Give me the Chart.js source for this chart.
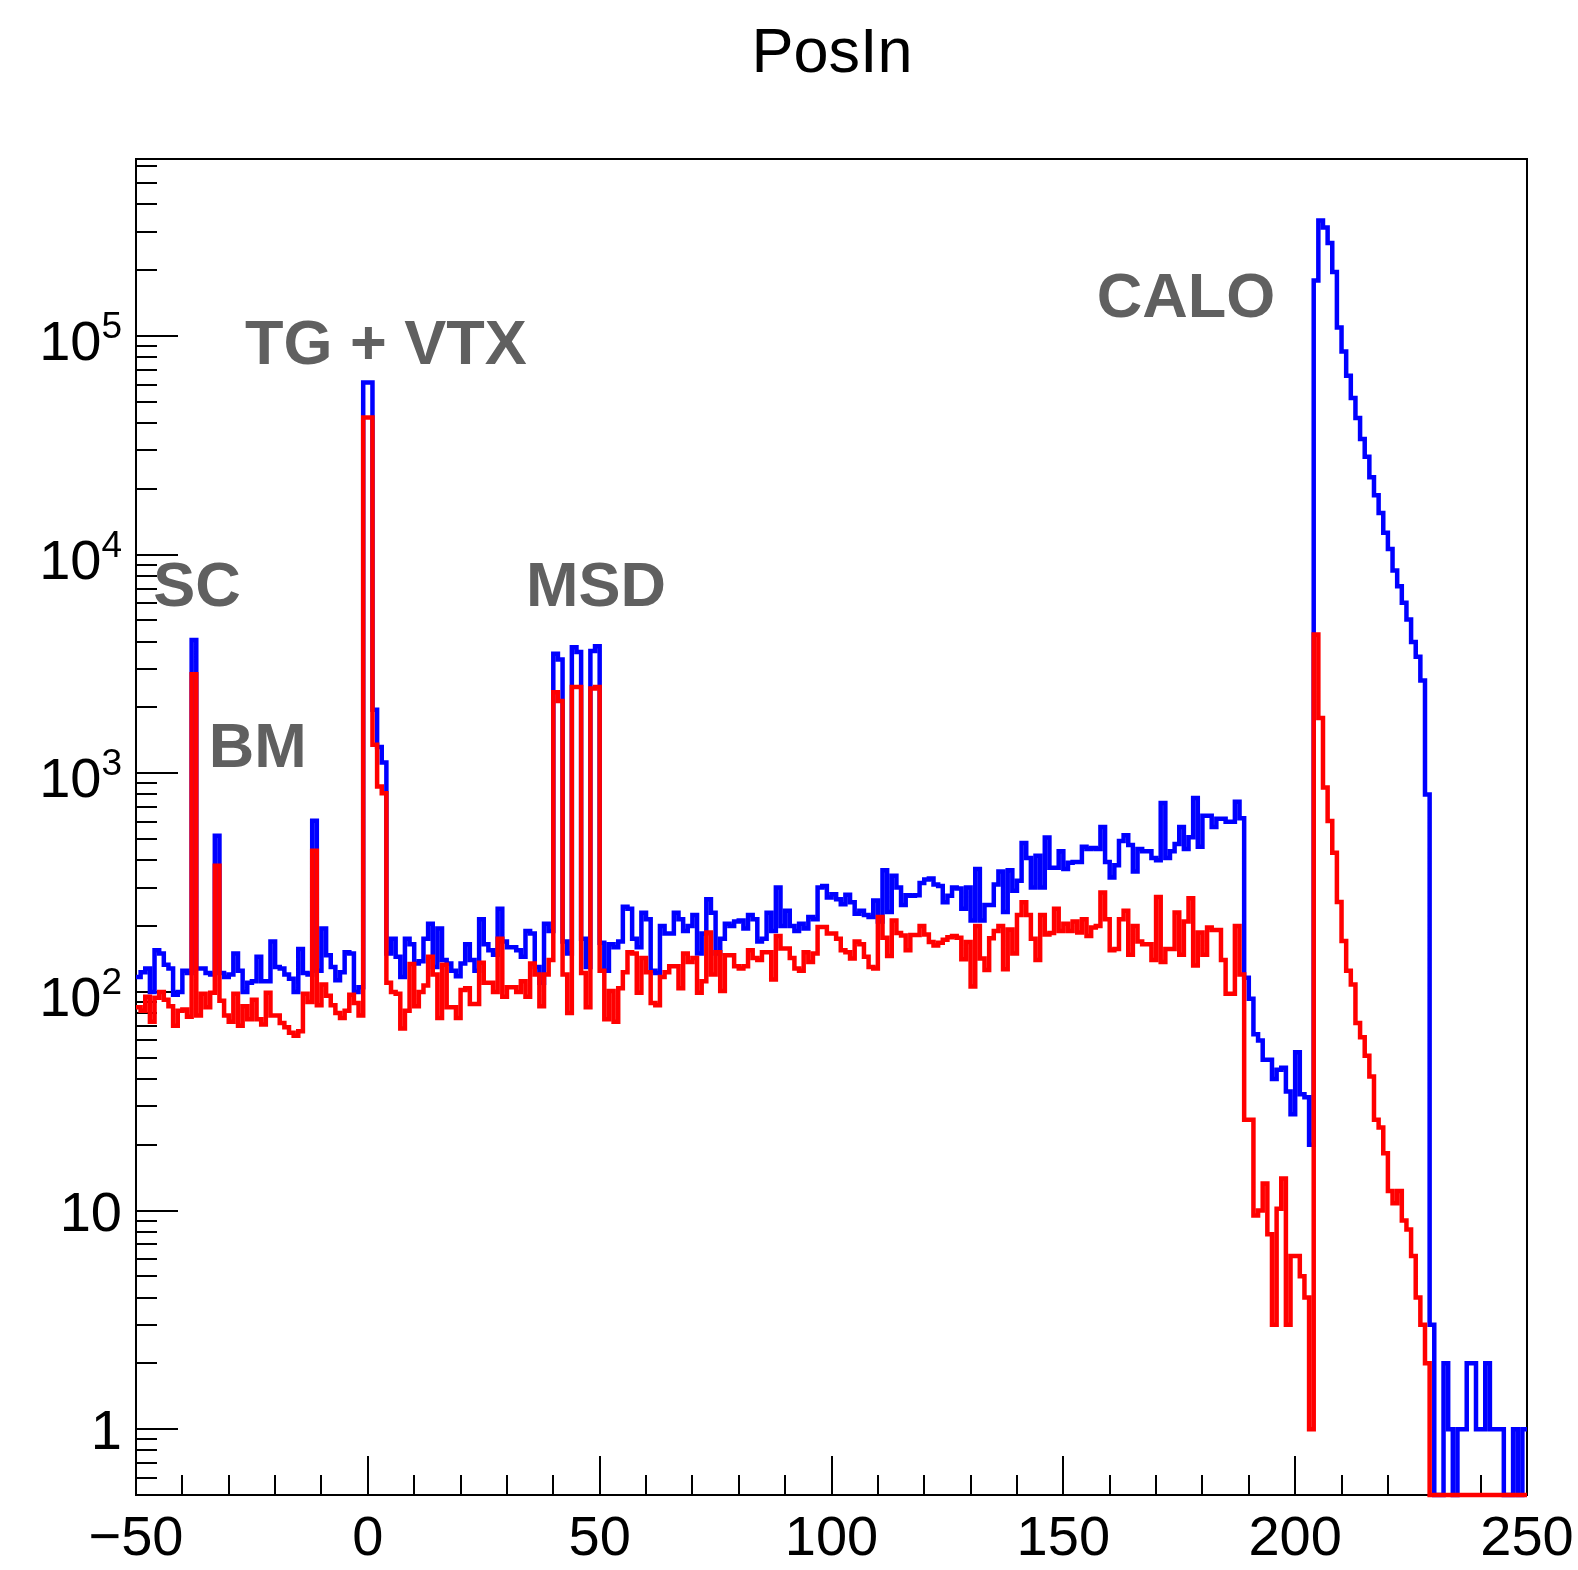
<!DOCTYPE html>
<html>
<head>
<meta charset="utf-8">
<script src="https://cdn.jsdelivr.net/npm/chart.js@4.4.1/dist/chart.umd.min.js"></script>
<style>
html,body{margin:0;padding:0;background:#ffffff;}
#wrap{width:1578px;height:1570px;position:relative;}
</style>
</head>
<body>
<div id="wrap"><canvas id="c" width="1578" height="1570"></canvas></div>
<script>
// ---------- chart text ----------
const TITLE = 'PosIn';

// ---------- axes ----------
const X_MIN = -50, X_MAX = 250, BIN_WIDTH = 1;
const Y_MIN = 0.5, Y_MAX = 645000;
const X_TICKS = [-50, 0, 50, 100, 150, 200, 250];
const X_TICK_LABELS = ['\u221250', '0', '50', '100', '150', '200', '250'];
const Y_TICKS = [1, 10, 100, 1000, 10000, 100000];
const Y_TICK_BASE = ['1', '10', '10', '10', '10', '10'];
const Y_TICK_EXP = ['', '', '2', '3', '4', '5'];

// ---------- bin contents (300 bins of width 1 from -50 to 250) ----------
const BLUE = [
  // -50 .. -2
  117,123,128,100,155,150,133,128,97,100,125,122,4070,128,128,122,120,518,122,117,
  120,150,125,100,110,112,145,112,112,170,130,128,120,115,100,157,122,120,607,125,
  195,147,130,113,123,152,150,100,105,
  // -1 .. 3
  61300,61300,1950,1320,1120,
  // 4 .. 39
  150,175,145,117,175,165,135,138,175,205,130,195,140,135,125,118,135,165,140,125,
  215,165,155,148,240,170,160,160,155,145,190,185,130,110,205,190,
  // 40 .. 49
  3520,3315,170,150,3775,3590,175,130,3620,3810,
  // 50 .. 100
  168,125,165,160,170,245,240,175,160,230,215,125,122,200,185,185,230,215,190,200,
  225,150,185,265,230,150,175,205,200,210,212,195,225,215,170,175,230,190,300,200,
  235,200,190,205,195,220,215,300,305,270,280,
  // 101 .. 151
  265,252,278,257,228,235,225,220,262,210,360,232,340,300,250,277,275,277,315,327,
  330,310,305,257,275,300,297,240,300,212,365,212,250,250,310,355,232,360,290,322,
  480,410,300,420,300,508,370,370,440,365,390,
  // 152 .. 188
  393,393,461,450,455,450,568,393,334,380,490,520,470,355,450,440,440,410,400,731,
  410,440,475,568,450,510,770,461,640,640,568,620,620,600,600,740,623,
  // 189 .. 203
  116,93,64,60,49,49,40,44,45,35,27.6,53,34,33,20,
  // 204 .. 228
  179500,337600,313500,266000,196000,109400,85000,65800,52000,42200,33800,28000,
  22600,18700,15500,12600,10600,8460,7170,6020,5050,3990,3410,2660,800,
  // 229 .. 249
  3,0,0,2,1,0,1,1,2,2,1,1,2,1,1,1,0,0,1,0,1
];

const RED = [
  // -50 .. -2
  85,82,95,73,94,100,92,86,70,82,83,77,2840,78,98,85,99,378,91,78,
  73,98,70,86,75,92,75,71,99,78,78,72,69,65,63,66,98,90,442,87,
  108,96,87,80,76,82,97,89,78,
  // -1 .. 3
  42400,42400,1350,870,810,
  // 4 .. 39
  110,100,98,68,82,134,86,100,107,145,120,76,133,85,85,76,102,104,88,88,
  136,110,110,100,175,95,105,105,100,112,95,135,120,86,120,140,
  // 40 .. 49
  2350,2140,120,80,2480,2480,122,85,2440,2480,
  // 50 .. 100
  125,75,101,73,104,123,152,150,99,143,123,89,87,117,123,131,131,104,150,137,
  143,99,112,187,120,152,101,147,147,131,128,131,155,143,140,152,152,114,180,158,
  158,143,128,125,152,137,150,198,198,185,185,
  // 101 .. 151
  175,155,152,142,170,165,145,130,128,220,177,146,212,186,181,155,182,182,200,183,
  169,163,168,173,178,180,177,141,169,106,200,142,126,176,190,200,127,193,150,225,
  257,225,175,140,225,183,186,240,190,205,190,
  // 152 .. 188
  210,187,215,180,197,200,285,215,155,157,215,235,148,200,170,165,165,140,272,137,
  157,157,231,148,210,268,132,187,148,197,192,192,140,98,98,200,120,
  // 189 .. 203
  26,26,9.5,10,13.3,7.8,3,10.2,14,3,6.2,6.2,5,4,1,
  // 204 .. 228
  4310,1790,860,605,433,258,171,125,108,72,62,51,41,26,24,18.3,12.3,10.8,12.3,9,
  8.2,6.2,4,3,2,
  // 229 .. 249
  0,0,0,0,0,0,0,0,0,0,0,0,0,0,0,0,0,0,0,0,0
];

// ---------- text annotations (data coordinates: left edge, baseline) ----------
const NOTES = [
  { text: 'SC',       x: -46.3, y: 5800 },
  { text: 'BM',       x: -34.3, y: 1070 },
  { text: 'TG + VTX', x: -26.5, y: 74200 },
  { text: 'MSD',      x: 34.1,  y: 5800 },
  { text: 'CALO',     x: 157.2, y: 121600 }
];

// ---------- styling ----------
const FONT = '"Liberation Sans", Arial, Helvetica, sans-serif';
const X_MINOR_STEP = 10, X_MAJOR_STEP = 50;

function histPoints(vals) {
  const pts = vals.map((v, i) => ({ x: X_MIN + i * BIN_WIDTH, y: v > 0 ? v : Y_MIN }));
  pts.push({ x: X_MIN + vals.length * BIN_WIDTH, y: pts[pts.length - 1].y });
  return pts;
}

const decor = {
  id: 'decor',
  beforeDatasetsDraw(chart) {
    const { ctx, chartArea: a, scales } = chart;
    const xs = scales.x, ys = scales.y;
    ctx.save();
    ctx.strokeStyle = '#000000';
    ctx.lineWidth = 2;
    ctx.strokeRect(a.left, a.top, a.right - a.left, a.bottom - a.top);
    ctx.beginPath();
    for (let v = X_MIN; v <= X_MAX; v += X_MINOR_STEP) {
      const px = Math.round(xs.getPixelForValue(v));
      const len = (v % X_MAJOR_STEP === 0) ? 39 : 20;
      ctx.moveTo(px, a.bottom);
      ctx.lineTo(px, a.bottom - len);
    }
    for (let e = -1; e <= 5; e++) {
      for (let m = 1; m <= 9; m++) {
        const v = m * Math.pow(10, e);
        if (v < Y_MIN * 1.0001 || v > Y_MAX) continue;
        const py = Math.round(ys.getPixelForValue(v));
        ctx.moveTo(a.left, py);
        ctx.lineTo(a.left + (m === 1 ? 42 : 21), py);
      }
    }
    ctx.stroke();
    ctx.restore();
  },
  afterDraw(chart) {
    const { ctx, chartArea: a, scales } = chart;
    const xs = scales.x, ys = scales.y;
    ctx.save();
    ctx.fillStyle = '#000000';
    // title
    ctx.font = '63px ' + FONT;
    ctx.textAlign = 'center';
    ctx.textBaseline = 'alphabetic';
    ctx.fillText(TITLE, 832, 72);
    // x tick labels
    ctx.font = '56px ' + FONT;
    ctx.textAlign = 'center';
    X_TICKS.forEach((v, i) => {
      ctx.fillText(X_TICK_LABELS[i], xs.getPixelForValue(v), 1555);
    });
    // y tick labels
    const right = 122;
    Y_TICKS.forEach((v, i) => {
      const py = ys.getPixelForValue(v);
      const exp = Y_TICK_EXP[i];
      if (!exp) {
        ctx.font = '56px ' + FONT;
        ctx.textAlign = 'right';
        ctx.fillText(Y_TICK_BASE[i], right, py + 20);
      } else {
        ctx.font = '37px ' + FONT;
        ctx.textAlign = 'right';
        const ew = ctx.measureText(exp).width;
        ctx.fillText(exp, right, py + 2);
        ctx.font = '56px ' + FONT;
        ctx.fillText(Y_TICK_BASE[i], right - ew, py + 24);
      }
    });
    // annotations
    ctx.font = 'bold 63px ' + FONT;
    ctx.fillStyle = '#606060';
    ctx.textAlign = 'left';
    NOTES.forEach(n => {
      ctx.fillText(n.text, xs.getPixelForValue(n.x), ys.getPixelForValue(n.y));
    });
    ctx.restore();
  }
};

new Chart(document.getElementById('c'), {
  type: 'line',
  data: {
    datasets: [
      { label: 'red', data: histPoints(RED), borderColor: '#ff0000', borderWidth: 4.5,
        stepped: true, pointRadius: 0, fill: false, borderJoinStyle: 'miter', clip: 3 },
      { label: 'blue', data: histPoints(BLUE), borderColor: '#0000ff', borderWidth: 4.5,
        stepped: true, pointRadius: 0, fill: false, borderJoinStyle: 'miter', clip: 3 }
    ]
  },
  options: {
    responsive: false,
    animation: false,
    devicePixelRatio: 1,
    parsing: true,
    layout: { padding: { left: 136, top: 159, right: 51, bottom: 75 } },
    scales: {
      x: { type: 'linear', min: X_MIN, max: X_MAX, display: false },
      y: { type: 'logarithmic', min: Y_MIN, max: Y_MAX, display: false }
    },
    plugins: { legend: { display: false }, tooltip: { enabled: false }, title: { display: false } }
  },
  plugins: [decor]
});
</script>
</body>
</html>
